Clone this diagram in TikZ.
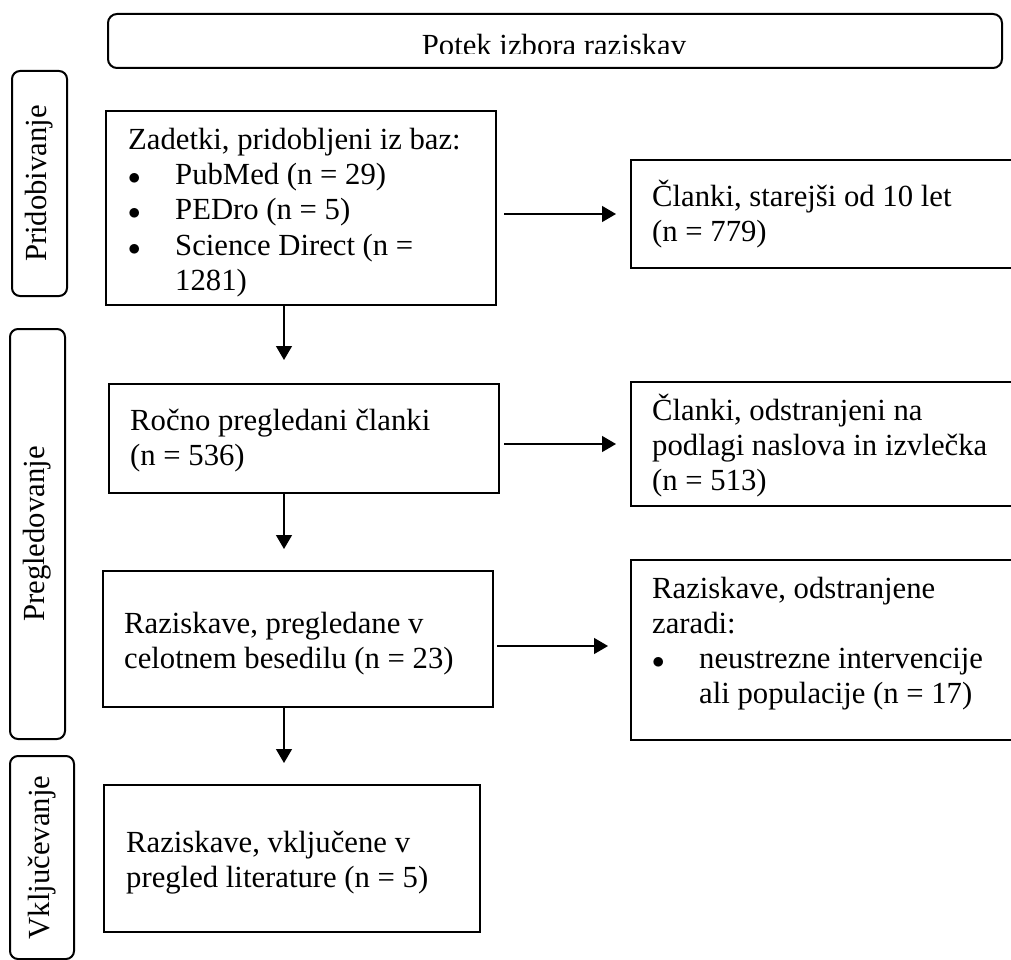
\documentclass[tikz,border=0pt]{standalone}
\usepackage{fontspec}
\setmainfont{Liberation Serif}
\usetikzlibrary{arrows.meta}

\newcommand{\bul}{\makebox[47pt][l]{$\bullet$}}
\newcommand{\boxtext}[1]{\parbox[t]{380pt}{#1}}

\begin{document}
\begin{tikzpicture}[x=1pt,y=-1pt,>={Triangle[length=14pt,width=16pt]},font=\fontsize{30.7}{35}\selectfont]
\tikzstyle{flowbox}=[draw=black,line width=2pt,rectangle,anchor=north west,inner sep=0pt]
\tikzstyle{sidebox}=[draw=black,line width=2pt,rectangle,rounded corners=8pt,rotate=90,inner sep=0pt]
\tikzstyle{boxtext}=[anchor=base west,inner sep=0pt]
\tikzstyle{flow}=[draw,->,line width=1.3pt]
\useasboundingbox (0,0) rectangle (1011,960);
\clip (0,0) rectangle (1011,960);

% title
\node[flowbox,rounded corners=9pt,minimum width=894pt,minimum height=54pt] (title) at (107,13) {};
\begin{scope}
\clip (title.north west) rectangle ([yshift=15pt]title.south east);
\node[anchor=base,inner sep=0pt] (titletext) at (554,56) {Potek izbora raziskav};
\end{scope}

% phases
\node[sidebox,minimum width=225pt,minimum height=55pt] (obtain) at (39.5,183.5) {Pridobivanje};
\node[sidebox,minimum width=410pt,minimum height=55pt] (screen) at (37.5,534) {Pregledovanje};
\node[sidebox,minimum width=203pt,minimum height=64pt] (include) at (42,857.5) {Vključevanje};

% boxes
\node[flowbox,minimum width=390pt,minimum height=194pt] (hits) at (105,110) {};
\node[flowbox,minimum width=390pt,minimum height=109pt] (manual) at (108,383) {};
\node[flowbox,minimum width=390pt,minimum height=136pt] (fulltext) at (102,570) {};
\node[flowbox,minimum width=376pt,minimum height=147pt] (included) at (103,784) {};
\node[flowbox,minimum width=390pt,minimum height=108pt] (older) at (630,159) {};
\node[flowbox,minimum width=390pt,minimum height=124pt] (removed) at (630,381) {};
\node[flowbox,minimum width=390pt,minimum height=180pt] (excluded) at (630,559) {};

% texts
\begin{scope}
\clip (hits.north west) rectangle ([yshift=9pt]hits.south east);
\node[boxtext] (hitstext) at ([shift={(23,40)}]hits.north west) {\boxtext{Zadetki, pridobljeni iz baz:\\ \bul PubMed (n = 29)\\ \bul PEDro (n = 5)\\ \bul Science Direct (n =\\ \hspace*{47pt}1281)}};
\end{scope}
\node[boxtext] (oldertext) at ([shift={(22,48)}]older.north west) {\boxtext{Članki, starejši od 10 let\\ (n = 779)}};
\node[boxtext] (manualtext) at ([shift={(22,47)}]manual.north west) {\boxtext{Ročno pregledani članki\\ (n = 536)}};
\node[boxtext] (removedtext) at ([shift={(22,39)}]removed.north west) {\boxtext{Članki, odstranjeni na\\ podlagi naslova in izvlečka\\ (n = 513)}};
\node[boxtext] (fulltexttext) at ([shift={(22,63)}]fulltext.north west) {\boxtext{Raziskave, pregledane v\\ celotnem besedilu (n = 23)}};
\node[boxtext] (excludedtext) at ([shift={(22,39)}]excluded.north west) {\boxtext{Raziskave, odstranjene\\ zaradi:\\ \bul neustrezne intervencije\\ \hspace*{47pt}ali populacije (n = 17)}};
\node[boxtext] (includedtext) at ([shift={(23,68)}]included.north west) {\boxtext{Raziskave, vključene v\\ pregled literature (n = 5)}};

% arrows
\coordinate (spine) at (284,0);
\coordinate (exclin) at ([yshift=4pt]excluded.west);
\path (hits.south -| spine) edge[flow,shorten >=23pt] (manual.north -| spine)
	(manual.south -| spine) edge[flow,shorten >=21pt] (fulltext.north -| spine)
	(fulltext.south -| spine) edge[flow,shorten >=21pt] (included.north -| spine)
	(hits.east |- older.west) edge[flow,shorten <=7pt,shorten >=14pt] (older.west)
	(manual.east |- removed.west) edge[flow,shorten <=4pt,shorten >=14pt] (removed.west)
	(fulltext.east |- exclin) edge[flow,shorten <=3pt,shorten >=22pt] (exclin);

\end{tikzpicture}
\end{document}
